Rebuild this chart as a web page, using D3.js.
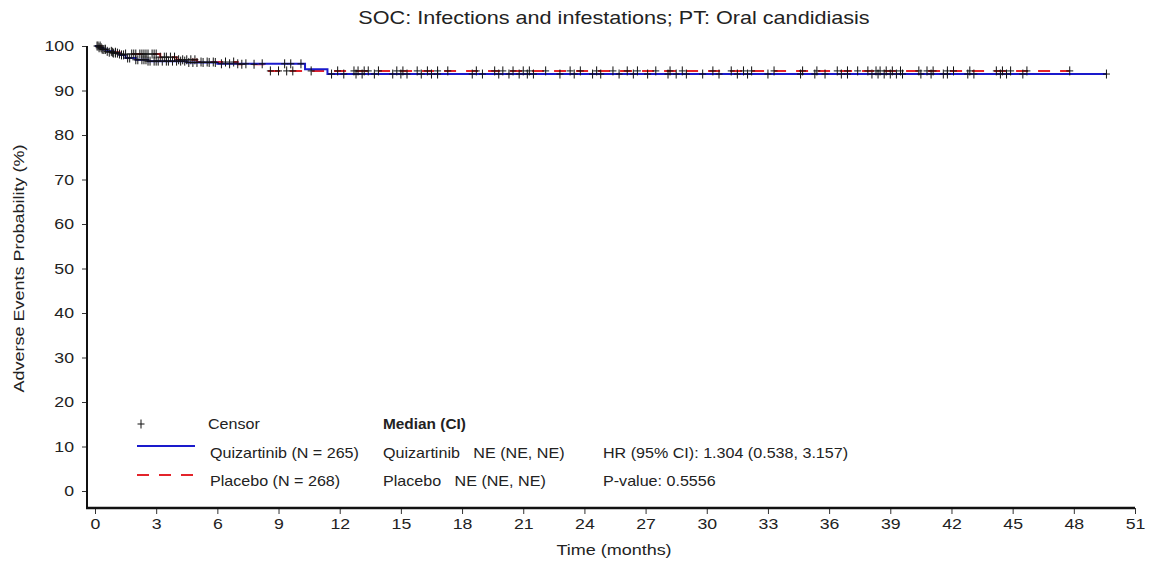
<!DOCTYPE html>
<html>
<head>
<meta charset="utf-8">
<script src="https://cdn.jsdelivr.net/npm/d3@7"></script>
<style>
  body { margin: 0; background: #fff; }
  text { font-family: "Liberation Sans", Arial, sans-serif; fill: #222; }
</style>
</head>
<body>
<div id="chart"></div>
<script>
// step points: [time (months), probability (%)]
const quizSteps = [[0,100],[0.2,99.6],[0.4,99.2],[0.6,98.8],[0.9,98.4],[1.2,98.0],[1.5,97.3],[2.0,96.9],[2.6,96.6],[4.5,96.3],[6.0,96.0],[10.3,94.8],[11.4,93.7]]
const quizEnd = 49.6
const placSteps = [[0,100],[0.3,99.3],[0.7,98.6],[1.2,98.2],[3.2,97.5],[4.0,96.9],[5.0,96.4],[7.0,95.9],[8.3,94.4]]
const placEnd = 47.8

// censor times (months)
const quizCensor = [0.1,0.2,0.3,0.4,0.5,0.6,0.8,0.9,1.0,1.1,1.3,1.4,1.6,1.7,2.0,2.1,2.3,2.4,2.5,2.6,2.7,2.9,3.0,3.1,3.3,3.5,3.6,3.8,4.0,4.2,4.4,4.6,4.8,5.0,5.3,5.6,5.9,6.2,6.6,7.0,7.4,8.2,9.3,9.6,10.1,11.6,12.2,12.8,13.1,13.7,14.6,15.0,15.3,16.0,16.5,16.8,18.5,19.0,19.8,20.3,20.8,21.2,21.5,22.8,23.5,24.4,24.8,25.7,26.4,27.1,28.1,28.5,29.0,29.8,30.6,31.5,32.0,33.0,34.6,35.3,35.8,36.6,36.9,38.1,38.4,38.7,39.0,39.3,39.6,40.5,41.0,41.6,41.8,42.8,43.1,44.4,44.7,45.5,49.6]
const placCensor = [0.15,0.25,0.35,0.5,0.7,0.85,1.0,1.2,1.5,1.8,1.9,2.0,2.2,2.3,2.4,2.5,2.6,2.8,2.9,3.0,3.2,3.4,3.5,3.7,3.9,4.1,4.3,4.5,4.7,4.9,5.2,5.5,5.8,6.4,6.8,7.2,7.8,8.6,9.0,9.4,9.7,10.6,11.9,12.7,12.9,13.2,13.4,13.9,14.8,15.1,15.8,16.3,16.8,17.3,18.7,19.6,20.0,20.5,21.0,21.3,22.1,23.3,23.8,24.6,25.4,26.1,26.6,27.5,28.2,28.8,30.3,31.2,31.8,32.2,33.3,34.7,35.4,36.4,36.9,37.4,37.9,38.3,38.5,38.8,39.1,39.5,40.4,40.8,41.1,41.8,42.1,42.9,44.2,44.5,44.9,45.7,47.8]

const xTicks = d3.range(0, 52, 3)
const yTicks = d3.range(0, 101, 10)

const W = 1154, H = 562
const svg = d3.select('#chart').append('svg')
  .attr('width', W).attr('height', H)

const x = d3.scaleLinear().domain([0, 51]).range([95, 1135])
const y = d3.scaleLinear().domain([0, 100]).range([491, 46])

// text is a bit wide in the original, so stretch it horizontally
function label(g, px, py, s, size, sx, anchor) {
  return g.append('text')
    .attr('transform', `translate(${px},${py}) scale(${sx},1)`)
    .attr('text-anchor', anchor || 'start')
    .style('font-size', size + 'px')
    .text(s)
}

// title
label(svg, 614, 24, 'SOC: Infections and infestations; PT: Oral candidiasis', 18, 1.2, 'middle')

// axes
let yAxis = svg.append('g')
  .attr('transform', 'translate(87,0)')
  .call(d3.axisLeft(y).tickValues(yTicks).tickSize(5).tickPadding(6))
yAxis.select('.domain').remove()
yAxis.selectAll('text').style('font-size', '15px').style('font-family', '"Liberation Sans", Arial, sans-serif')
  .attr('fill', '#222').attr('transform', 'scale(1.18,1)')
yAxis.selectAll('line').attr('stroke', '#333')

let xAxis = svg.append('g')
  .attr('transform', 'translate(0,508)')
  .call(d3.axisBottom(x).tickValues(xTicks).tickSize(6).tickPadding(4))
xAxis.select('.domain').remove()
xAxis.selectAll('text').style('font-size', '15px').style('font-family', '"Liberation Sans", Arial, sans-serif')
  .attr('fill', '#222').attr('transform', 'scale(1.18,1)')
xAxis.selectAll('line').attr('stroke', '#333')

svg.append('line').attr('x1', 87).attr('x2', 87).attr('y1', y(100)).attr('y2', 509)
  .attr('stroke', '#111').attr('stroke-width', 2)
svg.append('line').attr('x1', 86).attr('x2', x(51)).attr('y1', 508).attr('y2', 508)
  .attr('stroke', '#111').attr('stroke-width', 2.5)

// axis titles
svg.append('text')
  .attr('transform', 'translate(24,' + y(50) + ') rotate(-90) scale(1.2,1)')
  .attr('text-anchor', 'middle')
  .style('font-size', '15px')
  .text('Adverse Events Probability (%)')
label(svg, 614, 555, 'Time (months)', 15, 1.2, 'middle')

// curves
const line = d3.line().x(d => x(d[0])).y(d => y(d[1])).curve(d3.curveStepAfter)
function withEnd(steps, end) { return steps.concat([[end, steps[steps.length - 1][1]]]) }
function valueAt(steps, t) {
  let v = steps[0][1]
  steps.forEach(s => { if (s[0] <= t) v = s[1] })
  return v
}

svg.append('path').attr('d', line(withEnd(placSteps, placEnd)))
  .attr('fill', 'none').attr('stroke', '#e3242b').attr('stroke-width', 2)
  .attr('stroke-dasharray', '12,10')
svg.append('path').attr('d', line(withEnd(quizSteps, quizEnd)))
  .attr('fill', 'none').attr('stroke', '#1a1acc').attr('stroke-width', 2)

function plus(cx, cy) { return `M${cx - 3.5},${cy} h7 M${cx},${cy - 4.5} v9` }
svg.append('g').selectAll('path').data(placCensor).join('path')
  .attr('d', t => plus(x(t), y(valueAt(placSteps, t))))
  .attr('stroke', '#111').attr('stroke-width', 1).attr('fill', 'none')
svg.append('g').selectAll('path').data(quizCensor).join('path')
  .attr('d', t => plus(x(t), y(valueAt(quizSteps, t))))
  .attr('stroke', '#111').attr('stroke-width', 1).attr('fill', 'none')

// legend
let lg = svg.append('g')
lg.append('path').attr('d', plus(141, 424)).attr('stroke', '#111').attr('fill', 'none')
label(lg, 208, 429, 'Censor', 14, 1.15)
label(lg, 383, 429, 'Median (CI)', 14, 1.1).style('font-weight', 'bold')

lg.append('line').attr('x1', 137).attr('x2', 195).attr('y1', 446).attr('y2', 446)
  .attr('stroke', '#1a1acc').attr('stroke-width', 2)
label(lg, 210, 458, 'Quizartinib (N = 265)', 14, 1.15)
label(lg, 383, 458, 'Quizartinib   NE (NE, NE)', 14, 1.15).attr('xml:space', 'preserve')
label(lg, 603, 458, 'HR (95% CI): 1.304 (0.538, 3.157)', 14, 1.15)

lg.append('line').attr('x1', 137).attr('x2', 195).attr('y1', 475).attr('y2', 475)
  .attr('stroke', '#e3242b').attr('stroke-width', 2).attr('stroke-dasharray', '12,10')
label(lg, 210, 486, 'Placebo (N = 268)', 14, 1.15)
label(lg, 383, 486, 'Placebo   NE (NE, NE)', 14, 1.15).attr('xml:space', 'preserve')
label(lg, 603, 486, 'P-value: 0.5556', 14, 1.15)
</script>
</body>
</html>
